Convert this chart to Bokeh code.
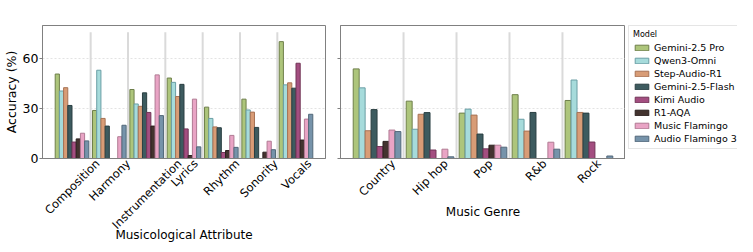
import math
import numpy as np
from bokeh.plotting import figure
from bokeh.models import Range1d, FixedTicker, ColumnDataSource, Legend, LegendItem
from bokeh.layouts import row
from bokeh.embed import file_html
from bokeh.resources import INLINE

models = ["Gemini-2.5 Pro", "Qwen3-Omni", "Step-Audio-R1", "Gemini-2.5-Flash",
          "Kimi Audio", "R1-AQA", "Music Flamingo", "Audio Flamingo 3"]
fills = ["#adc57b", "#a6dbdb", "#d89c76", "#3d5b5f", "#a34e80", "#43332f", "#e9a4c5", "#7693aa"]
edges = ["#6e7f4a", "#6a9ea5", "#a77254", "#2a3f42", "#723557", "#2b201e", "#b07a93", "#53687a"]

attributes = ["Composition", "Harmony", "Instrumentation", "Lyrics", "Rhythm", "Sonority", "Vocals"]
genres = ["Country", "Hip hop", "Pop", "R&b", "Rock"]

attr_gemini_pro = [50.8, 28.9, 41.5, 48.4, 30.9, 35.7, 70.3]
attr_qwen3_omni = [40.6, 53.1, 32.8, 45.8, 24.1, 29.2, 44.3]
attr_step_audio = [42.6, 24.1, 31.4, 37.3, 19.0, 27.9, 45.5]
attr_gemini_flash = [31.9, 19.5, 39.5, 44.6, 18.5, 18.7, 42.3]
attr_kimi_audio = [9.9, 0.0, 27.7, 17.8, 3.6, 0.0, 57.3]
attr_r1_aqa = [11.8, 0.0, 19.5, 1.8, 4.8, 3.8, 11.1]
attr_music_flamingo = [15.2, 13.1, 50.3, 35.7, 13.9, 10.4, 23.7]
attr_audio_flamingo3 = [10.6, 20.0, 25.8, 7.0, 6.7, 5.3, 26.6]

genre_gemini_pro = [53.9, 34.5, 27.3, 38.4, 34.9]
genre_qwen3_omni = [42.5, 17.6, 29.7, 23.6, 47.2]
genre_step_audio = [16.7, 26.6, 26.1, 16.5, 27.7]
genre_gemini_flash = [29.4, 27.6, 14.7, 27.7, 27.3]
genre_kimi_audio = [7.2, 5.1, 5.8, 0.0, 9.9]
genre_r1_aqa = [10.3, 0.0, 8.0, 0.0, 0.0]
genre_music_flamingo = [17.1, 5.6, 8.0, 9.8, 0.0]
genre_audio_flamingo3 = [16.2, 1.0, 6.8, 5.6, 1.5]

attr_series = [attr_gemini_pro, attr_qwen3_omni, attr_step_audio, attr_gemini_flash,
               attr_kimi_audio, attr_r1_aqa, attr_music_flamingo, attr_audio_flamingo3]
genre_series = [genre_gemini_pro, genre_qwen3_omni, genre_step_audio, genre_gemini_flash,
                genre_kimi_audio, genre_r1_aqa, genre_music_flamingo, genre_audio_flamingo3]

FONT = "DejaVu Sans"
GRAY = "#808080"
TICK_FS = 11.5
H = 244

ADV = {"C": 1430, "o": 1253, "m": 1995, "p": 1300, "s": 1067, "i": 569, "t": 803, "n": 1298,
       "H": 1540, "a": 1255, "r": 842, "y": 1212, "I": 604, "u": 1298, "e": 1260, "L": 1141,
       "c": 1126, "R": 1423, "h": 1298, "S": 1300, "V": 1401, "l": 569, " ": 651, "&": 1595,
       "b": 1300, "P": 1235, "k": 1186, "g": 1300}


def text_w(s, size):
    return sum(ADV.get(ch, 1250) for ch in s) / 2048.0 * size


def make_panel(cats, series, width, frame_w, xlabel, show_ylabels, min_left, min_right, lab_standoff):
    n = len(cats)
    pad = 0.79 if n == 7 else 0.69
    span = (n - 1) + 2 * pad
    ppu = frame_w / span
    p = figure(width=width, height=H, output_backend="svg", toolbar_location=None,
               x_range=Range1d(-pad, n - 1 + pad),
               y_range=Range1d(0, 80), min_border_left=min_left,
               min_border_right=min_right, min_border_top=3, min_border_bottom=0)
    p.outline_line_color = GRAY
    p.xgrid.visible = False
    p.ygrid.ticker = FixedTicker(ticks=[30, 60])
    p.ygrid.grid_line_color = "#dcdcdc"
    p.ygrid.grid_line_dash = "2 2"
    p.ygrid.grid_line_width = 0.8

    seps = [i + 0.5 for i in range(n - 1)]
    p.segment(x0=seps, y0=[0] * len(seps), x1=seps, y1=[76] * len(seps),
              line_color="#dadada", line_width=2)

    w = 0.9 / 8
    idx = np.arange(n)
    for j, vals in enumerate(series):
        xs = idx + (j - 3.5) * w
        src = ColumnDataSource(dict(x=list(xs), top=list(vals)))
        p.vbar(x="x", top="top", width=w, source=src, fill_color=fills[j],
               line_color=edges[j], line_width=1)

    ya = p.yaxis[0]
    ya.ticker = FixedTicker(ticks=[0, 30, 60])
    ya.minor_tick_line_color = None
    ya.major_tick_in = 0
    ya.major_tick_out = 3
    ya.major_tick_line_color = GRAY
    ya.axis_line_color = GRAY
    if show_ylabels:
        ya.axis_label = "Accuracy (%)"
        ya.axis_label_text_font = FONT
        ya.axis_label_text_font_size = "12.5px"
        ya.axis_label_text_font_style = "normal"
        ya.axis_label_text_color = "black"
        ya.axis_label_standoff = 1
        ya.major_label_text_font = FONT
        ya.major_label_text_font_size = "12.5px"
        ya.major_label_text_color = "black"
        ya.major_label_standoff = 1
    else:
        ya.major_label_overrides = {0: "", 30: "", 60: ""}
        ya.major_label_standoff = 0

    # category labels: rotated; text end placed where a centred rotated label ends
    ticks = [i + 0.354 * text_w(c, TICK_FS) / ppu for i, c in enumerate(cats)]
    xa = p.xaxis[0]
    xa.ticker = FixedTicker(ticks=ticks)
    xa.major_label_overrides = {t: c for t, c in zip(ticks, cats)}
    xa.major_label_orientation = math.pi / 4
    xa.major_label_text_font = FONT
    xa.major_label_text_font_size = f"{TICK_FS}px"
    xa.major_label_text_color = "black"
    xa.major_label_standoff = 3
    xa.major_tick_line_color = None
    xa.major_tick_out = 0
    xa.minor_tick_line_color = None
    xa.axis_line_color = GRAY
    xa.axis_label = xlabel
    xa.axis_label_text_font = FONT
    xa.axis_label_text_font_size = "12px"
    xa.axis_label_text_font_style = "normal"
    xa.axis_label_text_color = "black"
    xa.axis_label_standoff = lab_standoff
    return p


p1 = make_panel(attributes, attr_series, 333, 281, "Musicological Attribute", True, 0, 8, -12)
p2 = make_panel(genres, genre_series, 292, 285, "Music Genre", False, 7, 0, -2)

# legend panel
pl = figure(width=112, height=H, output_backend="svg", toolbar_location=None,
            x_range=Range1d(0, 1), y_range=Range1d(0, 1), x_axis_type=None, y_axis_type=None,
            min_border_left=3, min_border_top=25, min_border_right=0, min_border_bottom=0)
pl.outline_line_color = None
pl.xgrid.visible = False
pl.ygrid.visible = False
items = []
for j, m in enumerate(models):
    src = ColumnDataSource(dict(x=[np.nan], top=[np.nan]))
    r = pl.vbar(x="x", top="top", width=0.1, source=src, fill_color=fills[j],
                line_color=edges[j], line_width=1)
    items.append(LegendItem(label=m, renderers=[r]))
lg = Legend(items=items, title="Model", location="top_left")
lg.title_text_font = FONT
lg.title_text_font_size = "8px"
lg.title_text_font_style = "normal"
lg.title_text_color = "black"
lg.title_standoff = 2
lg.label_text_font = FONT
lg.label_text_font_size = "9.5px"
lg.label_text_color = "black"
lg.glyph_width = 17
lg.glyph_height = 7
lg.label_height = 12
lg.label_standoff = 4
lg.spacing = 1
lg.padding = 4
lg.margin = 0
lg.border_line_color = "#cccccc"
lg.border_line_width = 1
lg.background_fill_color = "white"
pl.add_layout(lg)

layout = row(p1, p2, pl, spacing=0)
open("out.html", "w").write(file_html(layout, INLINE))
